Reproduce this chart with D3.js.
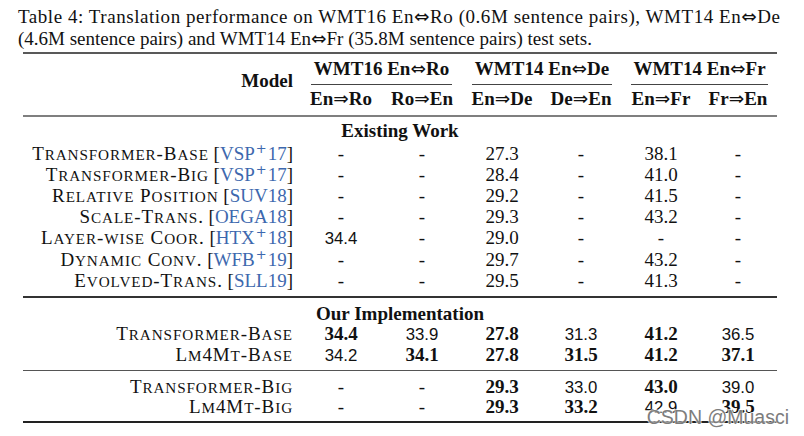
<!DOCTYPE html>
<html><head><meta charset="utf-8">
<script src="https://cdn.jsdelivr.net/npm/d3@7"></script>
<style>body{margin:0;background:#fff}svg{display:block}</style>
</head><body><svg id="c" width="804" height="436"></svg>
<script>
// ---------- data ----------
const captionLines = [
  "Table 4: Translation performance on WMT16 En⇔Ro (0.6M sentence pairs), WMT14 En⇔De",
  "(4.6M sentence pairs) and WMT14 En⇔Fr (35.8M sentence pairs) test sets."
];
const groups = ["WMT16 En⇔Ro", "WMT14 En⇔De", "WMT14 En⇔Fr"];
const columns = ["En⇒Ro", "Ro⇒En", "En⇒De", "De⇒En", "En⇒Fr", "Fr⇒En"];
const sectionTitles = ["Existing Work", "Our Implementation"];

const existingModels = ["Transformer-Base", "Transformer-Big", "Relative Position", "Scale-Trans.", "Layer-wise Coor.", "Dynamic Conv.", "Evolved-Trans."];
const existingCites = ["VSP^+17", "VSP^+17", "SUV18", "OEGA18", "HTX^+18", "WFB^+19", "SLL19"];
const existingValues = [
  ["-", "-", "27.3", "-", "38.1", "-"],
  ["-", "-", "28.4", "-", "41.0", "-"],
  ["-", "-", "29.2", "-", "41.5", "-"],
  ["-", "-", "29.3", "-", "43.2", "-"],
  ["34.4", "-", "29.0", "-", "-", "-"],
  ["-", "-", "29.7", "-", "43.2", "-"],
  ["-", "-", "29.5", "-", "41.3", "-"]
];
const existingSans = [
  [0,0,0,0,0,0],[0,0,0,0,0,0],[0,0,0,0,0,0],[0,0,0,0,0,0],
  [1,0,0,0,0,0],[0,0,0,0,0,0],[0,0,0,0,0,0]
];

const ourModels = ["Transformer-Base", "Lm4Mt-Base", "Transformer-Big", "Lm4Mt-Big"];
const ourValues = [
  ["34.4", "33.9", "27.8", "31.3", "41.2", "36.5"],
  ["34.2", "34.1", "27.8", "31.5", "41.2", "37.1"],
  ["-", "-", "29.3", "33.0", "43.0", "39.0"],
  ["-", "-", "29.3", "33.2", "42.9", "39.5"]
];
const ourBold = [
  [1,0,1,0,1,0],
  [0,1,1,1,1,1],
  [0,0,1,0,1,0],
  [0,0,1,1,0,1]
];
const ourSans = [
  [0,1,0,1,0,1],
  [1,0,0,0,0,0],
  [0,0,0,1,0,1],
  [0,0,0,0,1,0]
];
const watermark = "CSDN @Muasci";

// ---------- drawing ----------
const svg = d3.select("#c");
const serif = "'Liberation Serif','Times New Roman',serif";
const sans = "'Liberation Sans',Arial,sans-serif";
const arrowFont = "'DejaVu Sans',sans-serif";
const FS = 19;
const SANS_FS = 16.8;
const ARROW_FS = 18.5;
const citeColor = "#3d68ae";
const ink = "#111";

// text with math arrows in a separate (normal weight) font
function richText(t, str, arrowSize) {
  str.split(/([⇔⇒])/).forEach(p => {
    if (!p) return;
    if (p === "⇔" || p === "⇒") {
      t.append("tspan").attr("font-family", arrowFont).attr("font-weight", "normal")
        .attr("font-size", arrowSize).text(p);
    } else {
      t.append("tspan").text(p);
    }
  });
  return t;
}

// manual small caps: lowercase letters -> reduced uppercase
function smallCaps(t, str) {
  const runs = str.match(/([a-z]+|[^a-z]+)/g) || [];
  runs.forEach(r => {
    const lower = /^[a-z]/.test(r);
    t.append("tspan").attr("font-size", lower ? FS * 0.8 : FS).text(r.toUpperCase());
  });
  return t;
}

// caption
richText(svg.append("text").attr("x", 18).attr("y", 23)
  .attr("font-family", serif).attr("font-size", FS).attr("fill", ink)
  .attr("textLength", 762).attr("lengthAdjust", "spacing"), captionLines[0], ARROW_FS);
richText(svg.append("text").attr("x", 18).attr("y", 45)
  .attr("font-family", serif).attr("font-size", FS).attr("fill", ink), captionLines[1], ARROW_FS);

// rules
const L = 23, R = 777;
function rule(y, w, c) {
  svg.append("line").attr("x1", L).attr("x2", R).attr("y1", y).attr("y2", y)
    .attr("stroke", c).attr("stroke-width", w);
}
rule(53, 1.6, "#222");
rule(116, 1.4, "#555");
rule(297, 2, "#333");
rule(370.5, 1.2, "#555");
rule(422, 2, "#222");

// column scale
const x = d3.scaleOrdinal().domain(columns).range([341, 422, 502, 581, 661, 738]);
const groupSpan = d3.scaleOrdinal().domain(groups).range([[311, 452], [472, 612], [631, 768]]);

// header
svg.append("text").attr("x", 293).attr("y", 87).attr("text-anchor", "end").attr("fill", ink)
  .attr("font-family", serif).attr("font-weight", "bold").attr("font-size", FS).text("Model");

groups.forEach(g => {
  const [a, b] = groupSpan(g);
  richText(svg.append("text").attr("x", (a + b) / 2).attr("y", 75).attr("text-anchor", "middle").attr("fill", ink)
    .attr("font-family", serif).attr("font-weight", "bold").attr("font-size", FS), g, ARROW_FS);
  svg.append("line").attr("x1", a).attr("x2", b).attr("y1", 84.5).attr("y2", 84.5)
    .attr("stroke", "#444").attr("stroke-width", 1);
});
columns.forEach(c => {
  richText(svg.append("text").attr("x", x(c)).attr("y", 105).attr("text-anchor", "middle").attr("fill", ink)
    .attr("font-family", serif).attr("font-weight", "bold").attr("font-size", FS), c, ARROW_FS);
});

// section titles
svg.append("text").attr("x", 400).attr("y", 137).attr("text-anchor", "middle").attr("fill", ink)
  .attr("font-family", serif).attr("font-weight", "bold").attr("font-size", FS).text(sectionTitles[0]);
svg.append("text").attr("x", 400).attr("y", 320).attr("text-anchor", "middle").attr("fill", ink)
  .attr("font-family", serif).attr("font-weight", "bold").attr("font-size", FS).text(sectionTitles[1]);

// row scales
const yExist = d3.scaleLinear().domain([0, existingModels.length - 1]).range([160, 286.6]);
const yOur = d3.scaleOrdinal().domain([0, 1, 2, 3]).range([340, 361, 392.7, 412.7]);

function valueCell(v, cx, cy, bold, isSans) {
  svg.append("text").attr("x", cx).attr("y", cy).attr("text-anchor", "middle").attr("fill", ink)
    .attr("font-family", isSans ? sans : serif)
    .attr("font-size", isSans ? SANS_FS : FS)
    .attr("font-weight", bold ? "bold" : "normal")
    .text(v);
}

existingModels.forEach((m, i) => {
  const t = svg.append("text").attr("x", 293).attr("y", yExist(i)).attr("text-anchor", "end")
    .attr("font-family", serif).attr("font-size", FS).attr("fill", ink).attr("letter-spacing", 0.9);
  smallCaps(t, m);
  t.append("tspan").attr("letter-spacing", 0).text(" [");
  const parts = existingCites[i].split("^");
  if (parts.length === 2) {
    t.append("tspan").attr("fill", citeColor).attr("letter-spacing", 0).text(parts[0]);
    t.append("tspan").attr("fill", citeColor).attr("font-family", arrowFont).attr("font-size", 13)
      .attr("dx", 1).attr("dy", -7).attr("letter-spacing", 0).text(parts[1][0]);
    t.append("tspan").attr("fill", citeColor).attr("dx", 1).attr("dy", 7).attr("letter-spacing", 0).text(parts[1].slice(1));
  } else {
    t.append("tspan").attr("fill", citeColor).attr("letter-spacing", 0).text(parts[0]);
  }
  t.append("tspan").attr("letter-spacing", 0).text("]");
  existingValues[i].forEach((v, j) => valueCell(v, x(columns[j]), yExist(i), false, existingSans[i][j]));
});

ourModels.forEach((m, i) => {
  const t = svg.append("text").attr("x", 293).attr("y", yOur(i)).attr("text-anchor", "end")
    .attr("font-family", serif).attr("font-size", FS).attr("fill", ink).attr("letter-spacing", 0.9);
  smallCaps(t, m);
  ourValues[i].forEach((v, j) => valueCell(v, x(columns[j]), yOur(i), ourBold[i][j], ourSans[i][j]));
});

// watermark
svg.append("text").attr("x", 789).attr("y", 424).attr("text-anchor", "end")
  .attr("font-family", sans).attr("font-size", 19.5)
  .attr("fill", "#7d7d7d")
  .attr("stroke", "#fff").attr("stroke-width", 2).attr("stroke-opacity", 0.7)
  .style("paint-order", "stroke")
  .text(watermark);
</script></body></html>
